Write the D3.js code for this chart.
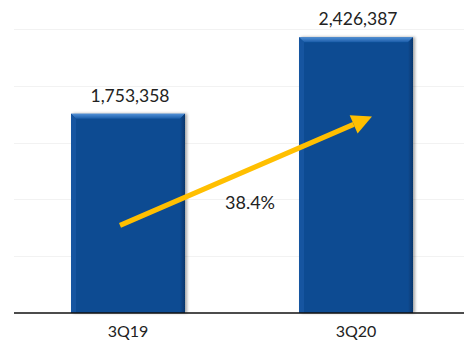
<!DOCTYPE html>
<html>
<head>
<meta charset="utf-8">
<script src="https://cdn.jsdelivr.net/npm/d3@7"></script>
<style>
  body { margin: 0; background: #fff; }
  svg text { font-family: Lato, "Open Sans", sans-serif; fill: #222; }
</style>
</head>
<body>
<div class="chart"></div>
<script>
var categories = ["3Q19", "3Q20"];
var values = [1753358, 2426387];
var valueLabels = ["1,753,358", "2,426,387"];
var gridTicks = [500000, 1000000, 1500000, 2000000, 2500000];
var growthLabel = "38.4%";

var w = 464;
var h = 347;
var padLeft = 14, padRight = 470, padTop = 29, base = 313;

var svg = d3.select(".chart")
    .append("svg")
    .attr("width", w)
    .attr("height", h);

var xScale = d3.scaleBand()
    .domain(categories)
    .range([padLeft, padRight])
    .paddingInner(0.5)
    .paddingOuter(0.25);

var yScale = d3.scaleLinear()
    .domain([0, 2500000])
    .range([base, padTop]);

var defs = svg.append("defs");
var bevelTop = defs.append("linearGradient")
    .attr("id", "bevelTop").attr("x1", 0).attr("y1", 0).attr("x2", 0).attr("y2", 1);
bevelTop.append("stop").attr("offset", "0%").attr("stop-color", "#4f8fd6");
bevelTop.append("stop").attr("offset", "100%").attr("stop-color", "#1a5aa6");
var bevelSide = defs.append("linearGradient")
    .attr("id", "bevelSide").attr("x1", 0).attr("y1", 0).attr("x2", 1).attr("y2", 0);
bevelSide.append("stop").attr("offset", "0%").attr("stop-color", "#0b4b92");
bevelSide.append("stop").attr("offset", "100%").attr("stop-color", "#06356c");
var shadow = defs.append("filter").attr("id", "shadow")
    .attr("x", "-10%").attr("y", "-10%").attr("width", "130%").attr("height", "120%");
shadow.append("feDropShadow")
    .attr("dx", 2).attr("dy", 0).attr("stdDeviation", 1.5)
    .attr("flood-color", "#000").attr("flood-opacity", 0.35);

// gridlines
svg.selectAll(".grid")
    .data(gridTicks)
    .enter()
    .append("line")
    .attr("class", "grid")
    .attr("x1", padLeft)
    .attr("x2", w)
    .attr("y1", d => Math.round(yScale(d)) + 0.5)
    .attr("y2", d => Math.round(yScale(d)) + 0.5)
    .attr("stroke", "#f2f2f2")
    .attr("stroke-width", 1);

// bars
var bars = svg.selectAll(".bar")
    .data(values)
    .enter()
    .append("g")
    .attr("class", "bar")
    .attr("filter", "url(#shadow)");

bars.append("rect")
    .attr("x", (d, i) => xScale(categories[i]))
    .attr("y", d => yScale(d))
    .attr("width", xScale.bandwidth())
    .attr("height", d => base - yScale(d))
    .attr("fill", "#0b4b92");

var bev = 5;
// top bevel
bars.append("path")
    .attr("d", (d, i) => {
        var x0 = xScale(categories[i]), x1 = x0 + xScale.bandwidth(), y0 = yScale(d);
        return `M${x0},${y0}L${x1},${y0}L${x1 - bev},${y0 + bev}L${x0 + bev},${y0 + bev}Z`;
    })
    .attr("fill", "url(#bevelTop)");
// right bevel
bars.append("path")
    .attr("d", (d, i) => {
        var x1 = xScale(categories[i]) + xScale.bandwidth(), y0 = yScale(d);
        return `M${x1},${y0}L${x1},${base}L${x1 - bev},${base}L${x1 - bev},${y0 + bev}Z`;
    })
    .attr("fill", "url(#bevelSide)");
// left highlight
bars.append("path")
    .attr("d", (d, i) => {
        var x0 = xScale(categories[i]), y0 = yScale(d);
        return `M${x0},${y0}L${x0 + bev},${y0 + bev}L${x0 + bev},${base}L${x0},${base}Z`;
    })
    .attr("fill", "#1455a0");

// axis line
svg.append("line")
    .attr("x1", padLeft)
    .attr("x2", w)
    .attr("y1", base)
    .attr("y2", base)
    .attr("stroke", "#111")
    .attr("stroke-width", 1.5);

// category labels
svg.selectAll(".cat")
    .data(categories)
    .enter()
    .append("text")
    .attr("class", "cat")
    .attr("x", d => xScale(d) + xScale.bandwidth() / 2)
    .attr("y", 337)
    .attr("text-anchor", "middle")
    .attr("font-size", 16)
    .text(d => d);

// value labels
svg.selectAll(".val")
    .data(values)
    .enter()
    .append("text")
    .attr("class", "val")
    .attr("x", (d, i) => xScale(categories[i]) + xScale.bandwidth() / 2 + 2)
    .attr("y", d => yScale(d) - 12)
    .attr("text-anchor", "middle")
    .attr("font-size", 17.5)
    .text((d, i) => valueLabels[i]);

// growth arrow from first bar to second bar
var ax0 = xScale(categories[0]) + xScale.bandwidth() / 2 - 8;
var ay0 = yScale(values[0] * 0.44);
var ax1 = xScale(categories[1]) + xScale.bandwidth() / 2 + 16;
var ay1 = yScale(values[1] * 0.713);
var ang = Math.atan2(ay1 - ay0, ax1 - ax0);
var headLen = 20, headW = 10;
var bx = ax1 - headLen * Math.cos(ang), by = ay1 - headLen * Math.sin(ang);
svg.append("line")
    .attr("x1", ax0).attr("y1", ay0)
    .attr("x2", bx).attr("y2", by)
    .attr("stroke", "#ffbf00")
    .attr("stroke-width", 5);
svg.append("path")
    .attr("d", `M${ax1},${ay1}` +
        `L${bx + headW * Math.sin(ang)},${by - headW * Math.cos(ang)}` +
        `L${bx - headW * Math.sin(ang)},${by + headW * Math.cos(ang)}Z`)
    .attr("fill", "#ffbf00");

svg.append("text")
    .attr("x", 250)
    .attr("y", 209)
    .attr("text-anchor", "middle")
    .attr("font-size", 18)
    .text(growthLabel);
</script>
</body>
</html>
